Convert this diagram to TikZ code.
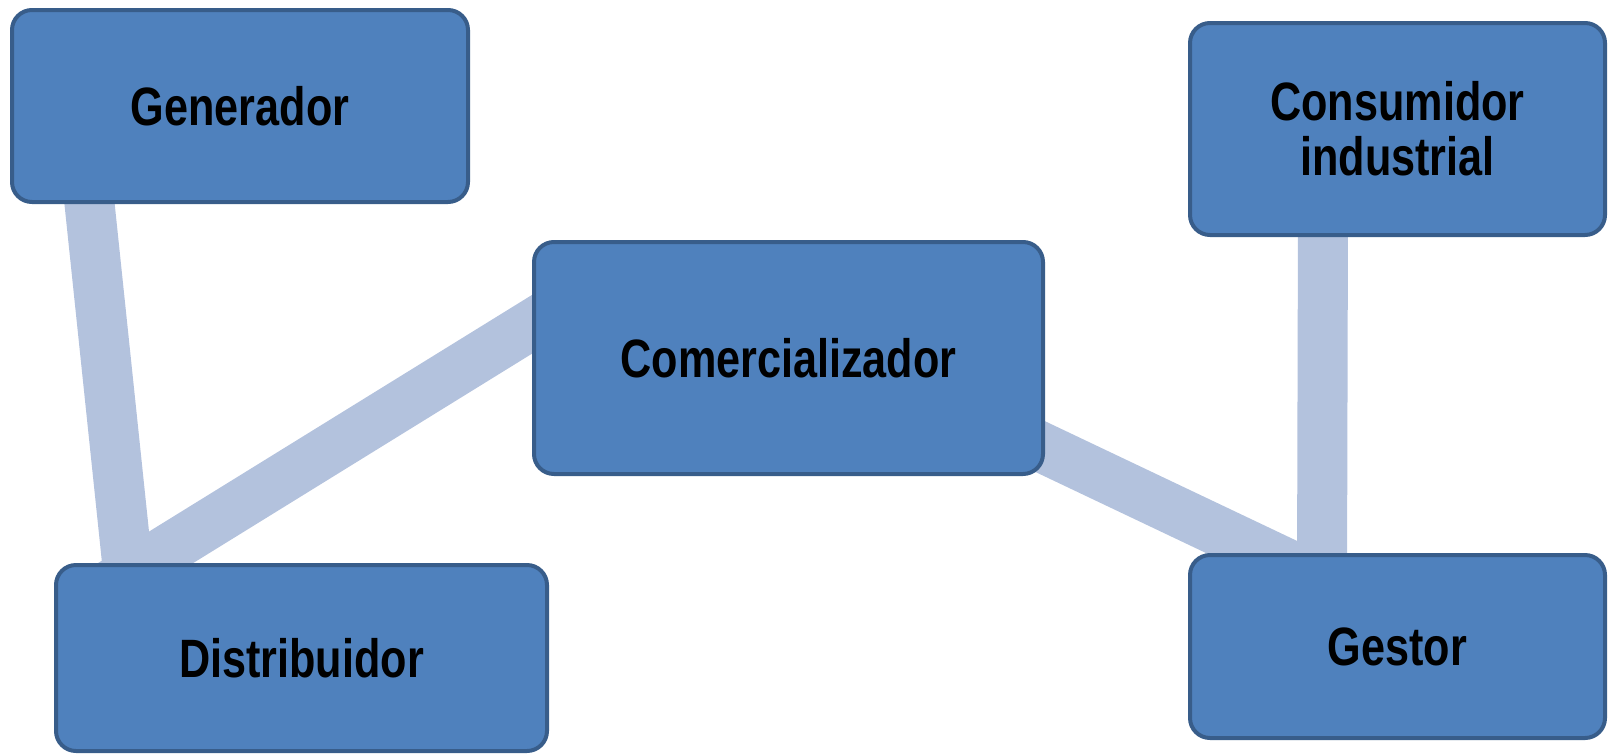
\documentclass[tikz,border=0pt]{standalone}
\usepackage{fontspec}
\setmainfont{Liberation Sans}[FakeStretch=0.80]
\usetikzlibrary{backgrounds,calc}
\definecolor{boxfill}{HTML}{4F81BD}
\definecolor{boxline}{HTML}{385D8A}
\definecolor{linkcol}{HTML}{B3C2DD}
\begin{document}
\begin{tikzpicture}[x=1pt,y=-1pt,
  box/.style={draw=boxline, line width=4pt, fill=boxfill, rounded corners=20pt,
    inner sep=0pt, font=\fontsize{54}{55}\selectfont\bfseries, text=black, align=center},
  link/.style={draw=linkcol, line width=50pt}]
\useasboundingbox (0,0) rectangle (1608,753);

\node[box, minimum width=456pt, minimum height=192pt] (gen)  at (240,106)    {Generador};
\node[box, minimum width=415pt, minimum height=212pt] (cons) at (1397.5,129) {Consumidor\\industrial};
\node[box, minimum width=509pt, minimum height=232pt] (comm) at (788.5,358)  {Comercializador};
\node[box, minimum width=491pt, minimum height=186pt] (dist) at (301.5,658)  {Distribuidor};
\node[box, minimum width=415pt, minimum height=183pt] (gest) at (1397.5,646.5) {Gestor};

\begin{scope}[on background layer]
  \coordinate (g1) at ($(gen.south)+(-154,-34)$);
  \coordinate (d1) at ($(dist.north)+(-171.5,27)$);
  \coordinate (d2) at ($(dist.north)+(-199.5,27)$);
  \coordinate (c1) at ($(comm.west)+(28,-51)$);
  \coordinate (c2) at ($(comm.east)+(-46,69)$);
  \coordinate (s1) at ($(gest.north)+(-97.5,17)$);
  \coordinate (k1) at ($(cons.south)+(-74.5,-27)$);
  \coordinate (s2) at ($(gest.north)+(-75.5,27)$);
  \draw[link] (g1) -- (d1);
  \draw[link] (d2) -- (c1);
  \draw[link] (c2) -- (s1);
  \draw[link] (k1) -- (s2);
\end{scope}
\end{tikzpicture}
\end{document}
